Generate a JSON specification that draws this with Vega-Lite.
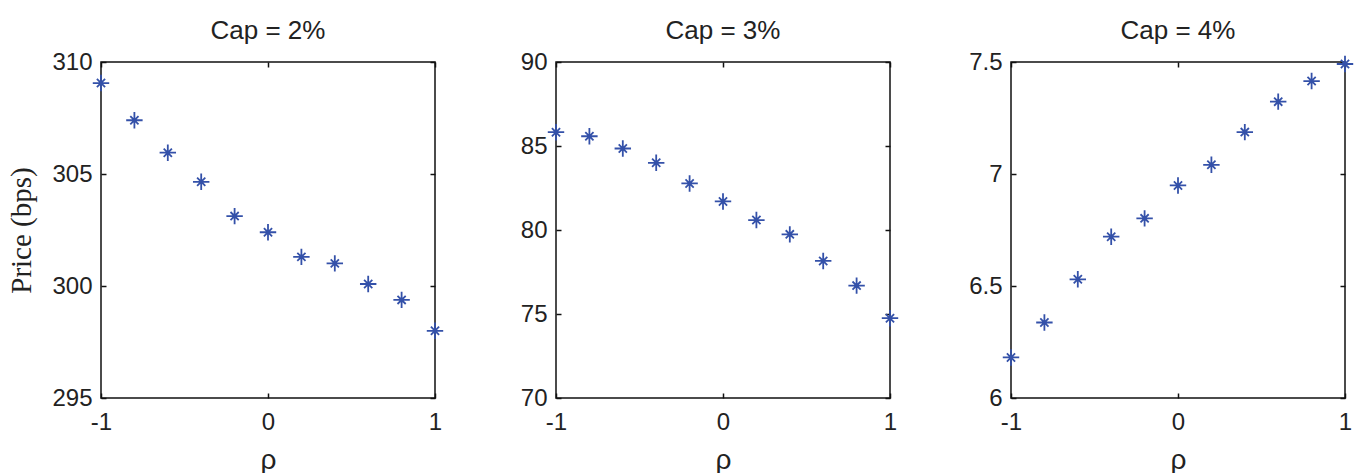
{
  "$schema": "https://vega.github.io/schema/vega-lite/v6.json",
  "padding": {"left": 7, "top": 17, "right": 0, "bottom": 0},
  "background": "white",
  "data": {"values": [
    {"cap": "2%", "rho": -1, "price": 309.06},
    {"cap": "2%", "rho": -0.8, "price": 307.4},
    {"cap": "2%", "rho": -0.6, "price": 305.95},
    {"cap": "2%", "rho": -0.4, "price": 304.65},
    {"cap": "2%", "rho": -0.2, "price": 303.12},
    {"cap": "2%", "rho": 0, "price": 302.4},
    {"cap": "2%", "rho": 0.2, "price": 301.3},
    {"cap": "2%", "rho": 0.4, "price": 301.01},
    {"cap": "2%", "rho": 0.6, "price": 300.09},
    {"cap": "2%", "rho": 0.8, "price": 299.38},
    {"cap": "2%", "rho": 1, "price": 298.0},
    {"cap": "3%", "rho": -1, "price": 85.82},
    {"cap": "3%", "rho": -0.8, "price": 85.58},
    {"cap": "3%", "rho": -0.6, "price": 84.85},
    {"cap": "3%", "rho": -0.4, "price": 84.0},
    {"cap": "3%", "rho": -0.2, "price": 82.77},
    {"cap": "3%", "rho": 0, "price": 81.7},
    {"cap": "3%", "rho": 0.2, "price": 80.59},
    {"cap": "3%", "rho": 0.4, "price": 79.74},
    {"cap": "3%", "rho": 0.6, "price": 78.16},
    {"cap": "3%", "rho": 0.8, "price": 76.69},
    {"cap": "3%", "rho": 1, "price": 74.75},
    {"cap": "4%", "rho": -1, "price": 6.181},
    {"cap": "4%", "rho": -0.8, "price": 6.337},
    {"cap": "4%", "rho": -0.6, "price": 6.53},
    {"cap": "4%", "rho": -0.4, "price": 6.72},
    {"cap": "4%", "rho": -0.2, "price": 6.802},
    {"cap": "4%", "rho": 0, "price": 6.949},
    {"cap": "4%", "rho": 0.2, "price": 7.041},
    {"cap": "4%", "rho": 0.4, "price": 7.187},
    {"cap": "4%", "rho": 0.6, "price": 7.323},
    {"cap": "4%", "rho": 0.8, "price": 7.415},
    {"cap": "4%", "rho": 1, "price": 7.491}
  ]},
  "spacing": 121,
  "bounds": "flush",
  "config": {
    "view": {"stroke": "#111", "strokeWidth": 1.5},
    "font": "Liberation Sans",
    "title": {"fontSize": 26, "fontWeight": "normal", "color": "#222", "font": "Liberation Sans", "baseline": "alphabetic", "offset": 6},
    "axis": {
      "grid": false, "domain": false, "tickSize": -5, "tickColor": "#111", "tickWidth": 1.5,
      "labelFlush": false,
      "labelFont": "Liberation Sans", "labelFontSize": 24, "labelColor": "#222",
      "titleFont": "Liberation Serif", "titleFontSize": 29, "titleFontWeight": "normal", "titleColor": "#222",
      "labelExpr": "'' + datum.value"
    }
  },
  "hconcat": [
    {
      "title": "Cap = 2%",
      "width": 334, "height": 336,
      "transform": [{"filter": "datum.cap == '2%'"}],
      "layer": [
        {
          "mark": {"type": "point", "shape": "M-1,0L1,0M0,-1L0,1M-0.5,-0.5L0.5,0.5M-0.5,0.5L0.5,-0.5", "filled": false, "strokeWidth": 1.8, "color": "#3451a9", "size": 270, "opacity": 1, "clip": false},
          "encoding": {
            "x": {"field": "rho", "type": "quantitative", "scale": {"domain": [-1, 1], "nice": false, "zero": false}, "axis": {"values": [-1, 0, 1], "title": "ρ", "titleFont": "Liberation Sans", "titleFontSize": 28, "labelPadding": 17, "titlePadding": 12}},
            "y": {"field": "price", "type": "quantitative", "scale": {"domain": [295, 310], "nice": false, "zero": false}, "axis": {"values": [295, 300, 305, 310], "title": "Price (bps)", "labelPadding": 14, "titlePadding": 15}}
          }
        },
        {
          "mark": {"type": "point", "opacity": 0},
          "encoding": {
            "x": {"field": "rho", "type": "quantitative", "axis": {"orient": "top", "values": [-1, 0, 1], "labels": false, "title": null}},
            "y": {"field": "price", "type": "quantitative", "axis": {"orient": "right", "values": [295, 300, 305, 310], "labels": false, "title": null}}
          }
        }
      ],
      "resolve": {"axis": {"x": "independent", "y": "independent"}}
    },
    {
      "title": "Cap = 3%",
      "width": 334, "height": 336,
      "transform": [{"filter": "datum.cap == '3%'"}],
      "layer": [
        {
          "mark": {"type": "point", "shape": "M-1,0L1,0M0,-1L0,1M-0.5,-0.5L0.5,0.5M-0.5,0.5L0.5,-0.5", "filled": false, "strokeWidth": 1.8, "color": "#3451a9", "size": 270, "opacity": 1, "clip": false},
          "encoding": {
            "x": {"field": "rho", "type": "quantitative", "scale": {"domain": [-1, 1], "nice": false, "zero": false}, "axis": {"values": [-1, 0, 1], "title": "ρ", "titleFont": "Liberation Sans", "titleFontSize": 28, "labelPadding": 17, "titlePadding": 12}},
            "y": {"field": "price", "type": "quantitative", "scale": {"domain": [70, 90], "nice": false, "zero": false}, "axis": {"values": [70, 75, 80, 85, 90], "title": null, "labelPadding": 14}}
          }
        },
        {
          "mark": {"type": "point", "opacity": 0},
          "encoding": {
            "x": {"field": "rho", "type": "quantitative", "axis": {"orient": "top", "values": [-1, 0, 1], "labels": false, "title": null}},
            "y": {"field": "price", "type": "quantitative", "axis": {"orient": "right", "values": [70, 75, 80, 85, 90], "labels": false, "title": null}}
          }
        }
      ],
      "resolve": {"axis": {"x": "independent", "y": "independent"}}
    },
    {
      "title": "Cap = 4%",
      "width": 334, "height": 336,
      "transform": [{"filter": "datum.cap == '4%'"}],
      "layer": [
        {
          "mark": {"type": "point", "shape": "M-1,0L1,0M0,-1L0,1M-0.5,-0.5L0.5,0.5M-0.5,0.5L0.5,-0.5", "filled": false, "strokeWidth": 1.8, "color": "#3451a9", "size": 270, "opacity": 1, "clip": false},
          "encoding": {
            "x": {"field": "rho", "type": "quantitative", "scale": {"domain": [-1, 1], "nice": false, "zero": false}, "axis": {"values": [-1, 0, 1], "title": "ρ", "titleFont": "Liberation Sans", "titleFontSize": 28, "labelPadding": 17, "titlePadding": 12}},
            "y": {"field": "price", "type": "quantitative", "scale": {"domain": [6, 7.5], "nice": false, "zero": false}, "axis": {"values": [6, 6.5, 7, 7.5], "title": null, "labelPadding": 14}}
          }
        },
        {
          "mark": {"type": "point", "opacity": 0},
          "encoding": {
            "x": {"field": "rho", "type": "quantitative", "axis": {"orient": "top", "values": [-1, 0, 1], "labels": false, "title": null}},
            "y": {"field": "price", "type": "quantitative", "axis": {"orient": "right", "values": [6, 6.5, 7, 7.5], "labels": false, "title": null}}
          }
        }
      ],
      "resolve": {"axis": {"x": "independent", "y": "independent"}}
    }
  ]
}
